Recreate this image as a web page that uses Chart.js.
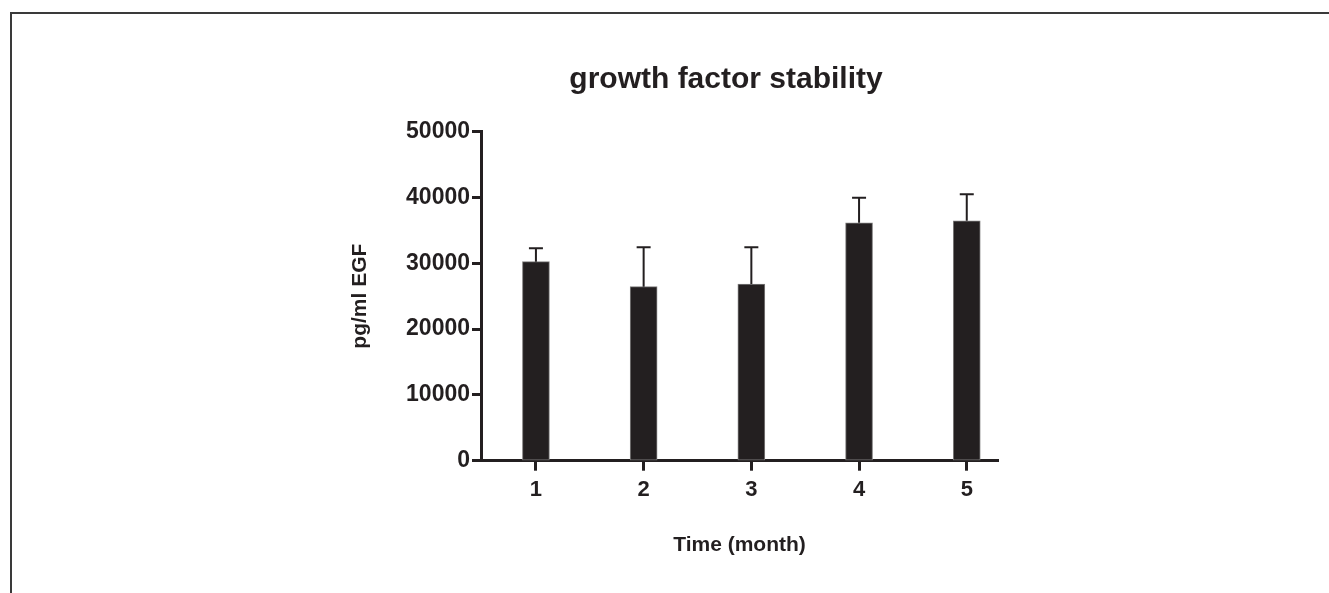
<!DOCTYPE html>
<html>
<head>
<meta charset="utf-8">
<script src="https://cdn.jsdelivr.net/npm/chart.js@4/dist/chart.umd.min.js"></script>
<style>
  html, body { margin: 0; padding: 0; background: #ffffff; overflow: hidden; }
  #wrap { position: relative; width: 1329px; height: 593px; }
  #frame { position: absolute; left: 10px; top: 12px; right: -5px; bottom: -5px;
           border-top: 2px solid #3a3a3a; border-left: 2px solid #3a3a3a; }
  canvas { position: absolute; left: 0; top: 0; }
</style>
</head>
<body>
<div id="wrap">
  <div id="frame"></div>
  <canvas id="c" width="1329" height="593"></canvas>
</div>
<script>
// ---- data ----
const chartTitle = 'growth factor stability';
const xAxisTitle = 'Time (month)';
const yAxisTitle = 'pg/ml EGF';
const months = [1, 2, 3, 4, 5];
const meanEGF = [30250, 26450, 26850, 36150, 36450];
const errEGF  = [2050, 6000, 5600, 3800, 4050];
const yTicks = [0, 10000, 20000, 30000, 40000, 50000];

const INK = '#231f20';
const FONT = "'Liberation Sans', Arial, Helvetica, sans-serif";

const errorBars = {
  id: 'errorBars',
  afterDatasetsDraw(chart) {
    const xs = chart.scales.x, ys = chart.scales.y, ctx = chart.ctx;
    ctx.save();
    ctx.strokeStyle = INK;
    ctx.lineWidth = 2;
    months.forEach((m, i) => {
      const x = xs.getPixelForValue(m);
      const y1 = ys.getPixelForValue(meanEGF[i]);
      const y2 = ys.getPixelForValue(meanEGF[i] + errEGF[i]);
      ctx.beginPath();
      ctx.moveTo(x, y1); ctx.lineTo(x, y2);
      ctx.moveTo(x - 7, y2); ctx.lineTo(x + 7, y2);
      ctx.stroke();
    });
    ctx.restore();
  }
};

new Chart(document.getElementById('c'), {
  type: 'bar',
  data: {
    datasets: [{
      data: months.map((m, i) => ({ x: m, y: meanEGF[i] })),
      backgroundColor: INK,
      borderColor: '#7d7b7b',
      borderWidth: 1,
      borderSkipped: false,
      barThickness: 27
    }]
  },
  options: {
    responsive: false,
    animation: false,
    events: [],
    layout: { padding: { left: 123, right: 0, top: 0, bottom: 0 } },
    plugins: {
      legend: { display: false },
      tooltip: { enabled: false },
      title: {
        display: true,
        text: chartTitle,
        color: INK,
        font: { family: FONT, size: 30, weight: 'bold' },
        padding: { top: 62, bottom: 33.7 }
      }
    },
    scales: {
      x: {
        type: 'linear',
        min: 0.49,
        max: 5.29,
        offset: false,
        afterBuildTicks: s => { s.ticks = months.map(v => ({ value: v })); },
        afterFit: s => { s.height = 132.3; },
        ticks: {
          color: INK,
          font: { family: FONT, size: 22, weight: 'bold' },
          padding: 6,
          maxRotation: 0,
          autoSkip: false,
          callback: v => String(v)
        },
        grid: { display: true, offset: false, drawOnChartArea: false, drawTicks: true,
                tickLength: 10, tickWidth: 3, tickColor: INK },
        border: { display: true, width: 3, color: INK },
        title: {
          display: true, text: xAxisTitle, color: INK,
          font: { family: FONT, size: 21, weight: 'bold' },
          padding: { top: 0, bottom: 35 }
        }
      },
      y: {
        type: 'linear',
        position: 'left',
        min: 0,
        max: 50000,
        afterBuildTicks: s => { s.ticks = yTicks.map(v => ({ value: v })); },
        afterFit: s => { s.width = 358; },
        ticks: {
          color: INK,
          font: { family: FONT, size: 23, weight: 'bold' },
          padding: 2,
          callback: v => String(v)
        },
        grid: { display: true, drawOnChartArea: false, drawTicks: true,
                tickLength: 9, tickWidth: 3, tickColor: INK },
        border: { display: true, width: 3, color: INK },
        title: {
          display: true, text: yAxisTitle, color: INK,
          font: { family: FONT, size: 21, weight: 'bold' },
          padding: { top: 225, bottom: 0 }
        }
      },
      spacer: {
        type: 'linear',
        position: 'right',
        display: true,
        afterFit: s => { s.width = 331; },
        ticks: { display: false },
        grid: { display: false },
        border: { display: false }
      }
    }
  },
  plugins: [errorBars]
});
</script>
</body>
</html>
